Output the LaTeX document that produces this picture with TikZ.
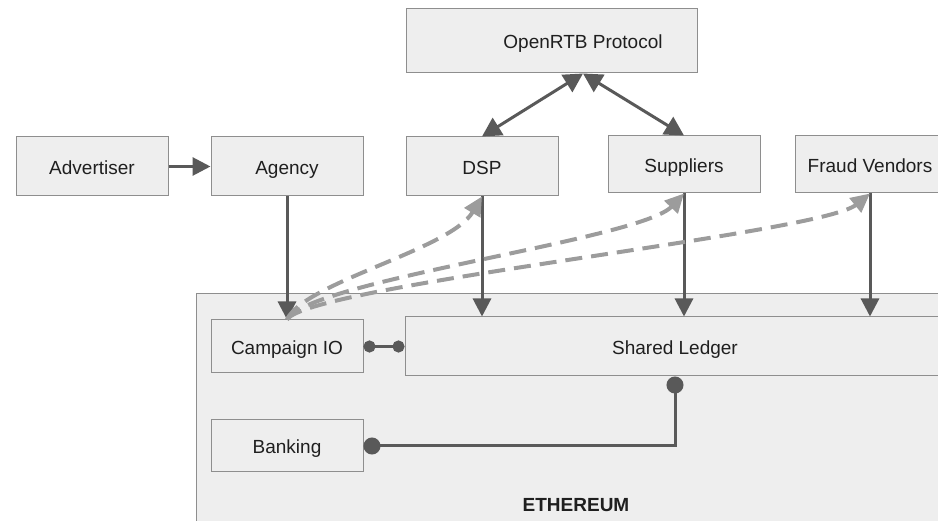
\documentclass[tikz,border=0pt]{standalone}
\usepackage{fontspec}
\setmainfont{Liberation Sans}
\usetikzlibrary{arrows.meta,calc}
\definecolor{boxfill}{HTML}{EEEEEE}
\definecolor{boxline}{HTML}{8E8E8E}
\definecolor{arrgray}{HTML}{595959}
\definecolor{dashgray}{HTML}{9C9C9C}
\begin{document}
\begin{tikzpicture}[x=1pt,y=-1pt,
  lbl/.style={font=\fontsize{19}{23}\selectfont, text=black!88, text height=17pt, text depth=1.5pt},
  box/.style={draw=boxline, fill=boxfill, line width=1pt, inner sep=0pt, lbl},
  solidarr/.style={draw=arrgray, line width=3pt, -{Triangle[length=18pt,width=18pt]}},
  dblarr/.style={draw=arrgray, line width=3pt,
    {Triangle[length=19pt,width=20pt]}-{Triangle[length=19pt,width=20pt]}},
  dasharr/.style={draw=dashgray, line width=4pt, dash pattern=on 17pt off 9pt,
    -{Triangle[length=19pt,width=18pt,fill=dashgray]}},
  smalldot/.style={draw=arrgray, line width=3pt, {Circle[length=12pt]}-{Circle[length=12pt]}},
  bigdot/.style={draw=arrgray, line width=3pt, {Circle[length=17pt]}-{Circle[length=17pt]}}
]
\useasboundingbox (0,0) rectangle (938,521);
\clip (0,0) rectangle (938,521);

% Ethereum container
\node[box, minimum width=760pt, minimum height=240pt, anchor=north west] (eth) at (196,293) {};
\node[lbl, font=\bfseries\fontsize{19}{23}\selectfont] (ethlabel) at (576,503.5) {ETHEREUM};

% Top nodes
\node[box, minimum width=291pt, minimum height=64pt] (rtb) at (551.5,41) {};
\node[lbl] (rtbtext) at (583,41) {OpenRTB Protocol};
\node[box, minimum width=152pt, minimum height=59pt] (adv) at (92,166.5) {Advertiser};
\node[box, minimum width=152pt, minimum height=59pt] (agency) at (287,166.5) {Agency};
\node[box, minimum width=152pt, minimum height=59pt] (dsp) at (482,166.5) {DSP};
\node[box, minimum width=152pt, minimum height=57pt] (sup) at (684,164.5) {Suppliers};
\node[box, minimum width=150pt, minimum height=57pt] (fraud) at (870,164.5) {Fraud Vendors};

% Inner nodes
\node[box, minimum width=152pt, minimum height=53pt] (cio) at (287,346.5) {Campaign IO};
\node[box, minimum width=540pt, minimum height=59pt] (ledger) at (675,346.5) {Shared Ledger};
\node[box, minimum width=152pt, minimum height=52pt] (bank) at (287,446) {Banking};

\coordinate (rtbp) at (583,73.5);

% Solid connectors
\draw[solidarr] (adv) -- (agency);
\draw[solidarr] (agency.south) -- (cio.north);
\draw[solidarr] (dsp.south) -- (dsp.south |- ledger.north);
\draw[solidarr] (sup.south) -- (sup.south |- ledger.north);
\draw[solidarr] (fraud.south) -- (fraud.south |- ledger.north);
\draw[dblarr] (dsp.north) -- (rtbp);
\draw[dblarr] (sup.north) -- (rtbp);

% Dot connectors
\draw[smalldot] (cio.east) -- (ledger.west);
\draw[bigdot] (ledger.south) |- (bank.east);

% Dashed curves
\draw[dasharr] (cio.north) .. controls (305,282) and (450,250) .. (dsp.south);
\draw[dasharr] (cio.north) .. controls (310,280) and (640,240) .. (sup.south);
\draw[dasharr] (cio.north) .. controls (310,285) and (820,234) .. (fraud.south);
\end{tikzpicture}
\end{document}
